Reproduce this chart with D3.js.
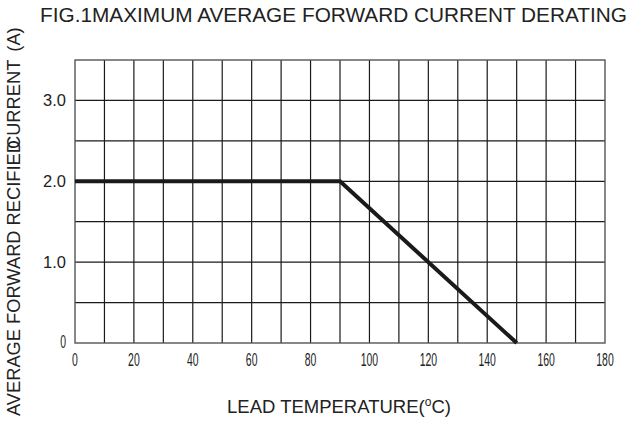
<!DOCTYPE html>
<html>
<head>
<meta charset="utf-8">
<script src="https://cdn.jsdelivr.net/npm/d3@7"></script>
<style>
  body { margin: 0; background: #fff; }
  text { font-family: "Liberation Sans", Arial, sans-serif; fill: #222; }
</style>
</head>
<body>
<svg id="chart" width="632" height="424"></svg>
<script>
// data
var tempPoints = [0, 90, 150];
var currentPoints = [2.0, 2.0, 0];
var xTicks = [0, 20, 40, 60, 80, 100, 120, 140, 160, 180];
var yTicks = [0, 1.0, 2.0, 3.0];
var yTickLabels = ["0", "1.0", "2.0", "3.0"];
var xGrid = d3.range(0, 181, 10);
var yGrid = [0.5, 1.0, 1.5, 2.0, 2.5, 3.0];

var svg = d3.select("#chart");
var margin = { top: 60, right: 27, bottom: 81, left: 75 };
var innerWidth = 632 - margin.left - margin.right;
var innerHeight = 424 - margin.top - margin.bottom;

var g = svg.append("g")
  .attr("transform", "translate(" + margin.left + "," + margin.top + ")");

var x = d3.scaleLinear().domain([0, 180]).range([0, innerWidth]);
var y = d3.scaleLinear().domain([0, 3.5]).range([innerHeight, 0]);

// 网格
g.append("g").selectAll("line")
  .data(xGrid.slice(1, -1))
  .enter().append("line")
  .attr("x1", function(d) { return x(d); })
  .attr("x2", function(d) { return x(d); })
  .attr("y1", 0).attr("y2", innerHeight)
  .attr("stroke", "#1a1a1a").attr("stroke-width", 1.2);

g.append("g").selectAll("line")
  .data(yGrid)
  .enter().append("line")
  .attr("x1", 0).attr("x2", innerWidth)
  .attr("y1", function(d) { return y(d); })
  .attr("y2", function(d) { return y(d); })
  .attr("stroke", "#1a1a1a").attr("stroke-width", 1.3);

// 边框
g.append("rect")
  .attr("x", 0).attr("y", 0)
  .attr("width", innerWidth).attr("height", innerHeight)
  .attr("fill", "none").attr("stroke", "#555").attr("stroke-width", 1.4);

// 曲线
var line = d3.line()
  .x(function(d) { return x(d[0]); })
  .y(function(d) { return y(d[1]); });

g.append("path")
  .datum(tempPoints.map(function(t, i) { return [t, currentPoints[i]]; }))
  .attr("d", line)
  .attr("fill", "none")
  .attr("stroke", "#1a1a1a")
  .attr("stroke-width", 4);

// x刻度标签 (窄字体)
g.append("g").selectAll("text")
  .data(xTicks)
  .enter().append("text")
  .attr("transform", function(d) { return "translate(" + x(d) + "," + (innerHeight + 23) + ") scale(0.58,1)"; })
  .attr("text-anchor", "middle")
  .style("font-size", "18px")
  .text(function(d) { return d; });

// y刻度标签
g.append("g").selectAll("text")
  .data(yTicks)
  .enter().append("text")
  .attr("transform", function(d) {
    if (d === 0) return "translate(-9," + (y(d) + 5) + ") scale(0.58,1)";
    return "translate(-9," + (y(d) + 6) + ")";
  })
  .attr("text-anchor", "end")
  .style("font-size", function(d) { return d === 0 ? "18px" : "16.5px"; })
  .text(function(d, i) { return yTickLabels[i]; });

// 标题
svg.append("text")
  .attr("x", 40).attr("y", 22)
  .style("font-size", "20.8px")
  .text("FIG.1MAXIMUM AVERAGE FORWARD CURRENT DERATING");

// x轴标题
var xt = svg.append("text")
  .attr("x", 227).attr("y", 413)
  .style("font-size", "18.5px");
xt.append("tspan").text("LEAD TEMPERATURE(");
xt.append("tspan").attr("dy", -7).style("font-size", "12px").text("o");
xt.append("tspan").attr("dy", 7).text("C)");

// y轴标题 (两段文字，D和C重叠)
var yt1 = svg.append("text")
  .attr("transform", "translate(20,416) rotate(-90)")
  .style("font-size", "18.3px")
  .text("AVERAGE FORWARD RECIFIED");
var len1 = yt1.node().getComputedTextLength();
var yt2 = svg.append("text")
  .attr("transform", "translate(20," + (416 - len1 + 9) + ") rotate(-90)")
  .style("font-size", "18.3px");
yt2.append("tspan").text("CURRENT");
yt2.append("tspan").attr("dx", 8).text("(A)");
</script>
</body>
</html>
